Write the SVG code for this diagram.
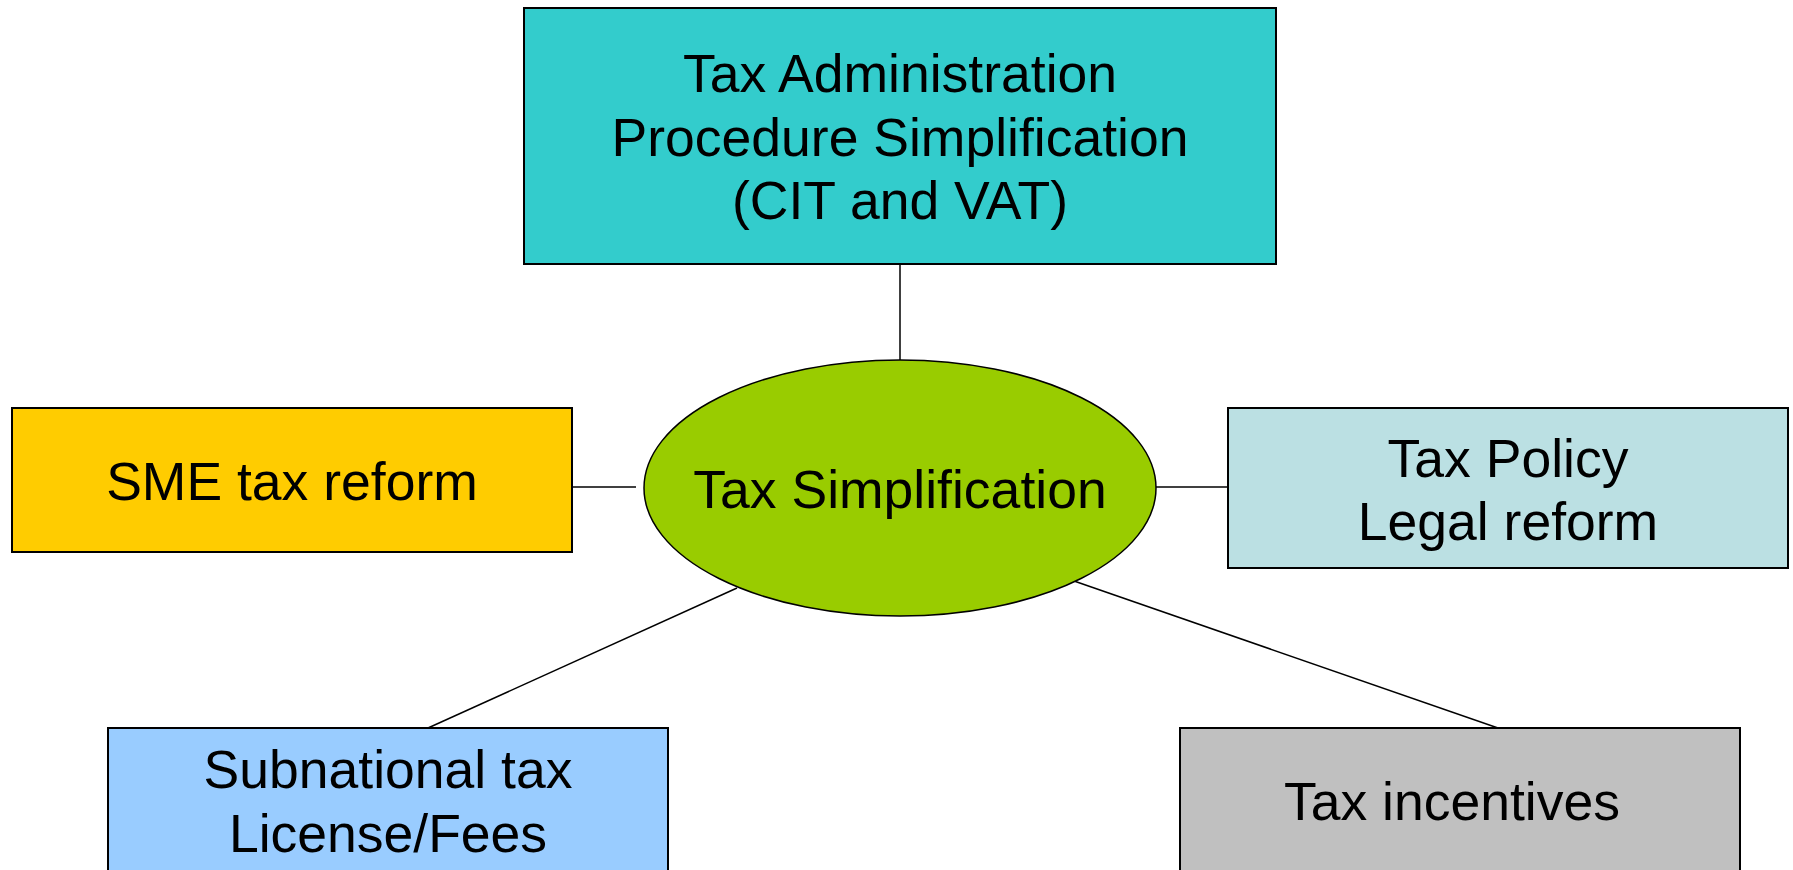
<svg xmlns="http://www.w3.org/2000/svg" width="1793" height="870" viewBox="0 0 1793 870">
<style>
.box{stroke:#000;stroke-width:2}
.ell{stroke:#000;stroke-width:1.5}
.lbl{font-family:"Liberation Sans",Arial,sans-serif;font-size:53.5px;fill:#000;text-anchor:middle}
.conn line{stroke:#000;stroke-width:1.5}
</style>
<rect width="1793" height="870" fill="#fff"/>
<g id="connectors" class="conn">
<line x1="900" y1="264" x2="900" y2="360"/>
<line x1="572" y1="487" x2="636" y2="487"/>
<line x1="1156" y1="487" x2="1228" y2="487"/>
<line x1="737" y1="588" x2="428" y2="728"/>
<line x1="1074" y1="581" x2="1498" y2="728"/>
</g>
<g id="node-admin">
<rect class="box" x="524" y="8" width="752" height="256" fill="#33CCCC"/>
<text class="lbl" x="900" y="92">Tax Administration</text>
<text class="lbl" x="900" y="155.5">Procedure Simplification</text>
<text class="lbl" x="900" y="219">(CIT and VAT)</text>
</g>
<g id="node-center">
<ellipse class="ell" cx="900" cy="488" rx="256" ry="128" fill="#99CC00"/>
<text class="lbl" x="900" y="508">Tax Simplification</text>
</g>
<g id="node-sme">
<rect class="box" x="12" y="408" width="560" height="144" fill="#FFCC00"/>
<text class="lbl" x="292" y="500">SME tax reform</text>
</g>
<g id="node-policy">
<rect class="box" x="1228" y="408" width="560" height="160" fill="#BBE0E3"/>
<text class="lbl" x="1508" y="477">Tax Policy</text>
<text class="lbl" x="1508" y="540">Legal reform</text>
</g>
<g id="node-subnational">
<rect class="box" x="108" y="728" width="560" height="160" fill="#99CCFF"/>
<text class="lbl" x="388" y="788">Subnational tax</text>
<text class="lbl" x="388" y="852">License/Fees</text>
</g>
<g id="node-incentives">
<rect class="box" x="1180" y="728" width="560" height="160" fill="#C0C0C0"/>
<text class="lbl" x="1452" y="820">Tax incentives</text>
</g>
</svg>
